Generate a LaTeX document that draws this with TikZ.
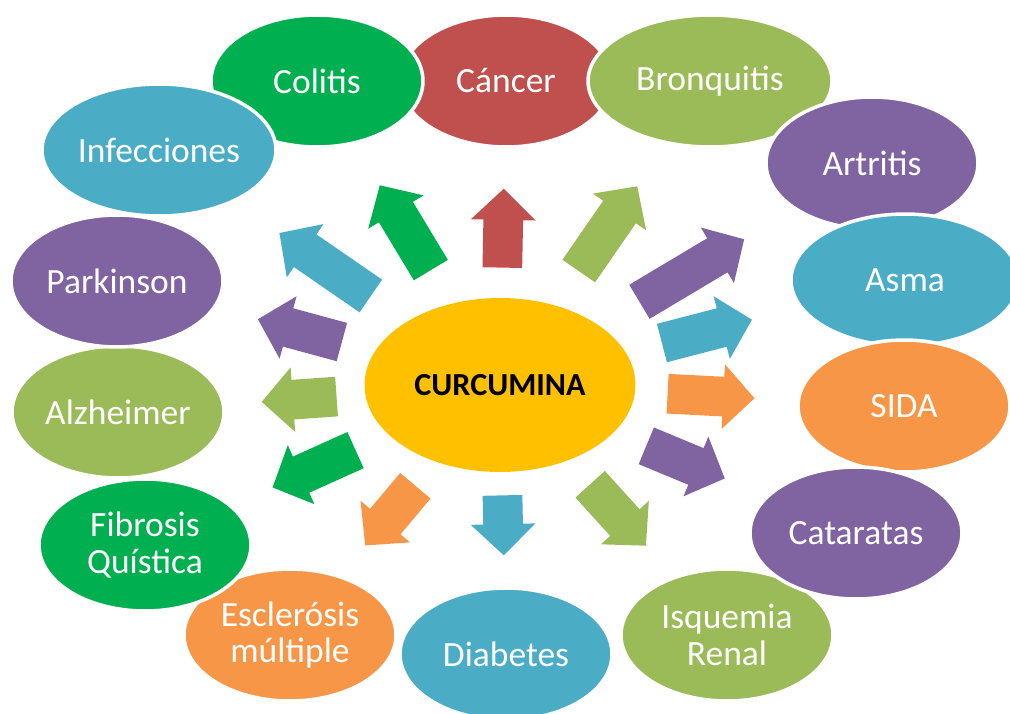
\documentclass[tikz,border=0pt]{standalone}
\usepackage{fontspec}
\setmainfont{Carlito}
\usetikzlibrary{shapes.geometric,shapes.arrows}

\definecolor{rojo}{HTML}{C0504D}
\definecolor{verde}{HTML}{00B050}
\definecolor{oliva}{HTML}{9BBB59}
\definecolor{morado}{HTML}{8064A2}
\definecolor{azul}{HTML}{4BACC6}
\definecolor{naranja}{HTML}{F79646}
\definecolor{amarillo}{HTML}{FFC000}

\tikzset{
  enfermedad/.style={ellipse, fill=#1, draw=white, line width=2pt,
    minimum width=4.24cm, minimum height=2.64cm, inner sep=0pt,
    text=white, align=center, font=\fontsize{20.2}{21}\selectfont},
  flecha/.style={single arrow, fill=#1, draw=none, inner xsep=0pt, inner ysep=0.39cm,
    sloped, allow upside down, anchor=tail,
    single arrow head extend=0.25cm, single arrow tip angle=92},
}

\begin{document}
\begin{tikzpicture}[x=0.02cm, y=-0.02cm]
        % marco de la figura
        \clip (0,0) rectangle (1010,713);

        % enfermedades, de abajo hacia arriba
        \node[enfermedad=rojo] (can) at (506,81) {Cáncer};
        \node[enfermedad=verde] (col) at (317,81) {Colitis};
        \node[enfermedad=oliva, minimum width=4.88cm] (bro) at (710,81) {Bronquitis};
        \node[enfermedad=morado] (art) at (872,163) {Artritis};
        \node[enfermedad=azul, minimum width=4.56cm] (asm) at (905,280) {Asma};
        \node[enfermedad=naranja] (sid) at (904,406) {SIDA};
        \node[enfermedad=oliva] (isq) at (727,635) {Isquemia\\Renal};
        \node[enfermedad=morado] (cat) at (856,533) {Cataratas};
        \node[enfermedad=azul] (dia) at (506,654) {Diabetes};
        \node[enfermedad=naranja] (esc) at (290,635) {Esclerósis\\múltiple};
        \node[enfermedad=oliva] (alz) at (118,412) {Alzheimer};
        \node[enfermedad=verde] (fib) at (145,545) {Fibrosis\\Quística};
        \node[enfermedad=morado] (par) at (117,281) {Parkinson};
        \node[enfermedad=azul, minimum width=4.68cm] (inf) at (159,150) {Infecciones};

        % la curcumina en el centro
        \node[ellipse, fill=amarillo, minimum width=5.42cm, minimum height=3.48cm,
          font=\bfseries\fontsize{18.3}{20}\selectfont] (cur) at (500,385) {CURCUMINA};

        % flechas hacia cada enfermedad
        \path (cur.center) -- node[flecha=rojo, pos=0.385, minimum height=1.58cm] (fcan) {} (can.center);
        \path (cur.center) -- node[flecha=verde, pos=0.377, minimum height=1.98cm] (fcol) {} (col.center);
        \path (cur.center) -- node[flecha=azul, pos=0.378, minimum height=2.22cm] (finf) {} (inf.center);
        \path (cur.center) -- node[flecha=morado, pos=0.412, minimum height=1.74cm] (fpar) {} (par.center);
        \path (cur.center) -- node[flecha=oliva, pos=0.427, minimum height=1.50cm] (falz) {} (alz.center);
        \path (cur.center) -- node[flecha=verde, pos=0.406, minimum height=1.82cm] (ffib) {} (fib.center);
        \path (cur.center) -- node[flecha=naranja, pos=0.402, minimum height=1.56cm] (fesc) {} (esc.center);
        \path (cur.center) -- node[flecha=azul, pos=0.409, minimum height=1.20cm] (fdia) {} (dia.center);
        \path (cur.center) -- node[flecha=oliva, pos=0.396, minimum height=1.66cm] (fisq) {} (isq.center);
        \path (cur.center) -- node[flecha=morado, pos=0.410, minimum height=1.70cm] (fcat) {} (cat.center);
        \path (cur.center) -- node[flecha=naranja, pos=0.414, minimum height=1.74cm] (fsid) {} (sid.center);
        \path (cur.center) -- node[flecha=azul, pos=0.399, minimum height=1.86cm] (fasm) {} (asm.center);
        \path (cur.center) -- node[flecha=morado, pos=0.374, minimum height=2.44cm] (fart) {} (art.center);
        \path (cur.center) -- node[flecha=oliva, pos=0.374, minimum height=2.06cm] (fbro) {} (bro.center);

\end{tikzpicture}
\end{document}
